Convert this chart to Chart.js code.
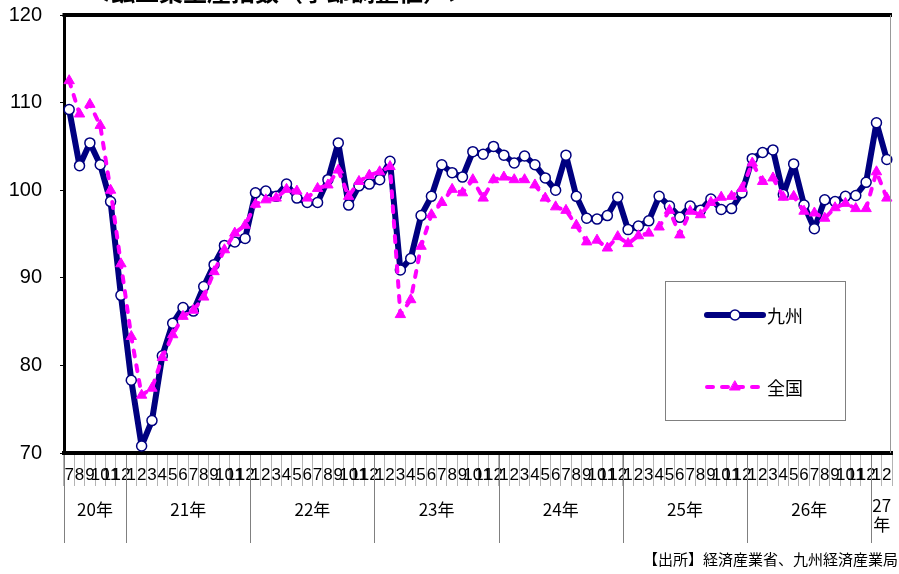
<!DOCTYPE html>
<html lang="ja">
<head>
<meta charset="utf-8">
<script src="https://cdn.jsdelivr.net/npm/chart.js@4/dist/chart.umd.min.js"></script>
<style>
  html, body { margin: 0; padding: 0; background: #fff; }
  #wrap { width: 899px; height: 574px; }
</style>
</head>
<body>
<div id="wrap"><canvas id="c" width="899" height="574"></canvas></div>
<script>
// Month tick labels, 20年7月 .. 27年2月
const monthLabels = [
  '7','8','9','10','11','12',
  '1','2','3','4','5','6','7','8','9','10','11','12',
  '1','2','3','4','5','6','7','8','9','10','11','12',
  '1','2','3','4','5','6','7','8','9','10','11','12',
  '1','2','3','4','5','6','7','8','9','10','11','12',
  '1','2','3','4','5','6','7','8','9','10','11','12',
  '1','2','3','4','5','6','7','8','9','10','11','12',
  '1','2'
];
const yearLabels = ['20年','21年','22年','23年','24年','25年','26年','27年'];

// 九州 (seasonally adjusted index)
const kyushu = [
  109.2, 102.8, 105.4, 102.9, 98.7, 88.0,
  78.3, 70.8, 73.7, 81.1, 84.8, 86.6, 86.2, 89.0, 91.5, 93.7, 94.1, 94.5,
  99.7, 99.9, 99.3, 100.7, 99.1, 98.6, 98.6, 101.2, 105.4, 98.3, 100.5, 100.7,
  101.2, 103.3, 90.9, 92.2, 97.1, 99.3, 102.9, 102.0, 101.5, 104.4, 104.1, 105.0,
  104.0, 103.1, 103.9, 102.9, 101.4, 100.0, 104.0, 99.3, 96.8, 96.7, 97.1, 99.2,
  95.5, 95.9, 96.5, 99.3, 98.2, 96.9, 98.2, 97.7, 99.0, 97.8, 97.9, 99.7,
  103.6, 104.3, 104.6, 99.5, 103.0, 98.3, 95.6, 98.9, 98.7, 99.3, 99.4, 100.9,
  107.7, 103.5
];

// 全国 (seasonally adjusted index)
const zenkoku = [
  112.5, 108.7, 109.8, 107.4, 100.0, 91.6,
  83.3, 76.6, 77.4, 80.9, 83.5, 85.6, 86.3, 87.8, 90.7, 93.2, 95.1, 96.0,
  98.4, 98.9, 99.1, 100.1, 99.9, 99.1, 100.2, 100.6, 102.3, 99.3, 101.0, 101.7,
  102.1, 102.7, 85.8, 87.5, 93.6, 97.2, 98.6, 100.1, 99.7, 101.2, 99.1, 101.2,
  101.5, 101.2, 101.2, 100.6, 99.1, 98.1, 97.7, 96.0, 94.1, 94.3, 93.4, 94.7,
  93.9, 94.8, 95.1, 95.8, 97.7, 94.9, 97.6, 97.2, 98.6, 99.2, 99.3, 100.2,
  103.1, 101.0, 101.4, 99.2, 99.3, 97.6, 97.4, 96.8, 98.0, 98.5, 97.9, 97.9,
  102.1, 99.1
];

const yTicks = [70, 80, 90, 100, 110, 120];

const NAVY = '#000080';
const MAGENTA = '#ff00ff';
const NARROW = "'Liberation Sans Narrow', 'Arial Narrow', 'Liberation Sans', Arial, sans-serif";
const JP = "'Noto Sans CJK JP', 'Noto Sans', sans-serif";

// Top/right frame of the plot area, year separators and year captions
const frame = {
  id: 'frame',
  afterDraw(chart) {
    const { ctx, chartArea: a, scales: { x } } = chart;
    ctx.save();
    ctx.strokeStyle = '#000';
    ctx.lineWidth = 4;
    ctx.beginPath();
    ctx.moveTo(a.left - 1.5, a.top);
    ctx.lineTo(a.right, a.top);
    ctx.stroke();
    ctx.strokeStyle = '#999';
    ctx.lineWidth = 1;
    ctx.beginPath();
    ctx.moveTo(a.right - 1.5, a.top);
    ctx.lineTo(a.right - 1.5, a.bottom);
    ctx.stroke();

    const half = (x.getPixelForValue(1) - x.getPixelForValue(0)) / 2;
    const starts = [];
    monthLabels.forEach((m, i) => { if (i === 0 || m === '1') starts.push(i); });
    const edges = starts.concat([monthLabels.length]);
    ctx.strokeStyle = '#808080';
    ctx.lineWidth = 1;
    starts.forEach(i => {
      const px = Math.round(x.getPixelForValue(i) - half) + 0.5;
      ctx.beginPath();
      ctx.moveTo(px, a.bottom + 2);
      ctx.lineTo(px, a.bottom + 90);
      ctx.stroke();
    });

    ctx.fillStyle = '#000';
    ctx.font = "17px 'Liberation Sans Narrow', 'Noto Sans CJK JP', sans-serif";
    ctx.textAlign = 'center';
    ctx.textBaseline = 'middle';
    yearLabels.forEach((lab, k) => {
      const l = x.getPixelForValue(edges[k]) - half;
      const r = x.getPixelForValue(edges[k + 1]) - half;
      const cx = (l + r) / 2;
      if (ctx.measureText(lab).width > r - l - 2) {
        ctx.fillText(lab.slice(0, -1), cx, a.bottom + 53);
        ctx.fillText(lab.slice(-1), cx, a.bottom + 72);
      } else {
        ctx.fillText(lab, cx, a.bottom + 57);
      }
    });

    // source note
    ctx.font = '15px ' + JP;
    ctx.textAlign = 'right';
    ctx.fillText('【出所】経済産業省、九州経済産業局', chart.width - 1, 559);

    // chart title (runs off the top edge)
    ctx.font = 'bold 24px ' + JP;
    ctx.textAlign = 'center';
    ctx.textBaseline = 'bottom';
    ctx.fillText('＜鉱工業生産指数（季節調整値）＞', 279, 4);
    ctx.restore();
  }
};

// Legend box inside the plot area
const legendBox = {
  id: 'legendBox',
  afterDraw(chart, args, o) {
    const ctx = chart.ctx;
    ctx.save();
    ctx.fillStyle = '#fff';
    ctx.fillRect(o.x, o.y, o.w, o.h);
    ctx.strokeStyle = '#808080';
    ctx.lineWidth = 1;
    ctx.strokeRect(o.x + 0.5, o.y + 0.5, o.w, o.h);
    chart.data.datasets.forEach((ds, i) => {
      const y = o.rows[i];
      const x1 = o.x + 42, x2 = o.x + 98, cx = (x1 + x2) / 2;
      ctx.strokeStyle = ds.borderColor;
      ctx.lineWidth = ds.borderWidth;
      ctx.lineCap = 'round';
      ctx.setLineDash(ds.borderDash || []);
      ctx.beginPath();
      ctx.moveTo(x1, y);
      ctx.lineTo(x2, y);
      ctx.stroke();
      ctx.setLineDash([]);
      ctx.fillStyle = ds.pointBackgroundColor;
      ctx.strokeStyle = ds.pointBorderColor;
      ctx.lineWidth = ds.pointBorderWidth;
      const r = ds.pointRadius;
      ctx.beginPath();
      if (ds.pointStyle === 'triangle') {
        ctx.moveTo(cx, y - r);
        ctx.lineTo(cx + r * Math.sin(2 * Math.PI / 3), y + r / 2);
        ctx.lineTo(cx - r * Math.sin(2 * Math.PI / 3), y + r / 2);
        ctx.closePath();
      } else {
        ctx.arc(cx, y, r, 0, Math.PI * 2);
      }
      ctx.fill();
      ctx.stroke();
      ctx.fillStyle = '#000';
      ctx.font = '18px ' + JP;
      ctx.textAlign = 'left';
      ctx.textBaseline = 'middle';
      ctx.fillText(ds.label, x2 + 4, y + 1);
    });
    ctx.restore();
  }
};

new Chart(document.getElementById('c'), {
  type: 'line',
  data: {
    labels: monthLabels,
    datasets: [
      {
        label: '九州',
        data: kyushu,
        order: 2,
        borderColor: NAVY,
        borderWidth: 6,
        borderJoinStyle: 'round',
        borderCapStyle: 'round',
        pointStyle: 'circle',
        pointRadius: 5,
        pointBackgroundColor: '#fff',
        pointBorderColor: NAVY,
        pointBorderWidth: 1.5,
        tension: 0
      },
      {
        label: '全国',
        data: zenkoku,
        order: 1,
        borderColor: MAGENTA,
        borderWidth: 4,
        borderDash: [6, 9],
        borderJoinStyle: 'round',
        borderCapStyle: 'round',
        pointStyle: 'triangle',
        pointRadius: 6,
        pointBackgroundColor: MAGENTA,
        pointBorderColor: MAGENTA,
        pointBorderWidth: 1,
        tension: 0
      }
    ]
  },
  options: {
    responsive: false,
    animation: false,
    devicePixelRatio: 1,
    layout: { padding: { top: 15, right: 0, bottom: 0, left: 0 } },
    plugins: {
      legend: { display: false },
      tooltip: { enabled: false },
      legendBox: { x: 665, y: 281, w: 180, h: 139, rows: [315, 387] }
    },
    scales: {
      x: {
        type: 'category',
        offset: true,
        afterFit: s => { s.height = 121; s.paddingLeft = 0; s.paddingRight = 0; },
        grid: {
          display: true,
          offset: true,
          drawOnChartArea: false,
          drawTicks: true,
          tickLength: 33,
          color: '#b4b4b4',
          lineWidth: 1
        },
        border: { display: true, color: '#000', width: 4 },
        ticks: {
          autoSkip: false,
          maxRotation: 0,
          minRotation: 0,
          padding: -21,
          color: '#000',
          font: { family: NARROW, size: 17 }
        }
      },
      y: {
        min: 70,
        max: 120,
        afterFit: s => { s.width = 64; s.paddingTop = 0; s.paddingBottom = 0; },
        afterBuildTicks: s => { s.ticks = yTicks.map(v => ({ value: v })); },
        grid: {
          display: true,
          drawOnChartArea: false,
          drawTicks: true,
          tickLength: 4,
          color: '#000',
          lineWidth: 1
        },
        border: { display: true, color: '#000', width: 3 },
        ticks: {
          padding: 18,
          color: '#000',
          font: { family: NARROW, size: 20 }
        }
      }
    }
  },
  plugins: [frame, legendBox]
});
</script>
</body>
</html>
